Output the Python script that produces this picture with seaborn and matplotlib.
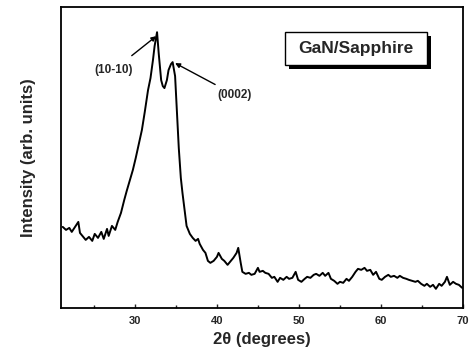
import numpy as np
import pandas as pd
import matplotlib
matplotlib.use("Agg")
import matplotlib.pyplot as plt
import matplotlib.patheffects as pe
from matplotlib.patches import Rectangle
import seaborn as sns

# XRD scan (2theta in degrees, intensity in arb. units)
two_theta = [21.2, 21.6, 22.0, 22.3, 22.7, 23.1, 23.3, 23.7, 24.0, 24.4, 24.8, 25.1,
             25.5, 25.9, 26.2, 26.6, 26.8, 27.2, 27.6, 27.9, 28.3, 28.7, 29.0, 29.4,
             29.75, 30.1, 30.5, 30.85, 31.2, 31.6, 31.9, 32.2, 32.4, 32.7, 32.9, 33.2,
             33.4, 33.6, 33.9, 34.1, 34.4, 34.6, 34.9, 35.1, 35.35, 35.6, 35.8, 36.1,
             36.3, 36.7, 37.05, 37.4, 37.7, 37.9, 38.3, 38.6, 38.9, 39.2, 39.6, 40.0,
             40.2, 40.6, 40.9, 41.3, 41.7, 42.0, 42.4, 42.6, 42.9, 43.1, 43.5, 43.9,
             44.2, 44.6, 45.0, 45.2, 45.6, 45.9, 46.3, 46.7, 47.0, 47.4, 47.7, 48.1,
             48.5, 48.8, 49.2, 49.6, 49.9, 50.3, 50.7, 51.0, 51.4, 51.8, 52.1, 52.5,
             52.9, 53.2, 53.6, 53.9, 54.3, 54.7, 55.0, 55.4, 55.8, 56.1, 56.5, 56.9,
             57.2, 57.6, 58.0, 58.3, 58.7, 59.05, 59.4, 59.8, 60.1, 60.5, 60.9, 61.2,
             61.6, 62.0, 62.3, 62.7, 63.1, 63.4, 63.8, 64.2, 64.5, 64.9, 65.3, 65.6,
             66.0, 66.35, 66.7, 67.1, 67.4, 67.8, 68.05, 68.4, 68.8, 69.15, 69.5, 69.9]
intensity = [81, 78, 80, 76, 81, 86, 75, 71, 68, 71, 67, 74,
             70, 76, 69, 79, 72, 82, 78, 86, 95, 108, 117, 128,
             138, 150, 165, 178, 196, 218, 230, 248, 262, 276, 255, 228,
             222, 220, 228, 238, 244, 246, 232, 200, 160, 130, 115, 95,
             82, 74, 70, 67, 69, 64, 58, 55, 47, 45, 47, 51,
             55, 49, 47, 43, 47, 50, 55, 60, 45, 36, 34, 35,
             33, 34, 40, 36, 37, 35, 34, 30, 31, 26, 30, 28,
             31, 29, 30, 36, 28, 26, 29, 31, 30, 33, 34, 32,
             35, 32, 35, 29, 27, 24, 26, 25, 29, 27, 31, 36,
             39, 38, 40, 37, 38, 33, 36, 29, 28, 31, 33, 31,
             32, 30, 32, 30, 29, 28, 27, 26, 27, 24, 22, 24,
             21, 23, 19, 24, 22, 26, 31, 23, 26, 24, 23, 20]

x_ticks = [30, 40, 50, 60, 70]
x_minor = [25, 35, 45, 55, 65]

df = pd.DataFrame({"two_theta": two_theta, "intensity": intensity})

sns.set_style("ticks")
plt.rcParams["font.family"] = ["Liberation Sans", "DejaVu Sans"]
plt.rcParams["font.weight"] = "bold"

fig = plt.figure(figsize=(4.7, 3.6), dpi=100)
ax = fig.add_axes([0.13, 0.145, 0.855, 0.835])

sns.lineplot(data=df, x="two_theta", y="intensity", color="black", lw=1.4, ax=ax)

ax.set_xlim(21, 70)
ax.set_ylim(0, 301)
ax.set_xticks(x_ticks)
ax.set_xticks(x_minor, minor=True)
ax.set_yticks([])
ax.tick_params(axis="x", direction="in", length=3, width=1, labelsize=8, pad=6)
ax.tick_params(axis="x", which="minor", direction="in", length=2, width=1)
for lab in ax.get_xticklabels():
    lab.set_fontweight("bold")
for s in ax.spines.values():
    s.set_linewidth(1.3)
    s.set_color("black")

ax.set_xlabel("2θ (degrees)", fontsize=12, fontweight="bold", labelpad=4)
ax.set_ylabel("Intensity (arb. units)", fontsize=12, fontweight="bold", labelpad=18)

# peak labels
ax.annotate("(10-10)", xy=(32.6, 272), xytext=(27.4, 238),
            fontsize=8.5, fontweight="bold", ha="center", va="center",
            arrowprops=dict(arrowstyle="-|>", color="black", lw=1, mutation_scale=7,
                            shrinkA=6, shrinkB=0))
ax.annotate("(0002)", xy=(34.9, 245), xytext=(42.2, 213),
            fontsize=8.5, fontweight="bold", ha="center", va="center",
            arrowprops=dict(arrowstyle="-|>", color="black", lw=1, mutation_scale=7,
                            shrinkA=2, shrinkB=0))

# framed label with a drop shadow
box = Rectangle((0.557, 0.807), 0.353, 0.11, transform=ax.transAxes,
                fc="white", ec="black", lw=1, zorder=4)
box.set_path_effects([
    pe.SimplePatchShadow(offset=(3, -3), shadow_rgbFace="black", alpha=1),
    pe.Normal()])
ax.add_patch(box)
ax.text(0.7335, 0.862, "GaN/Sapphire", transform=ax.transAxes, fontsize=12.5,
        fontweight="bold", ha="center", va="center", zorder=5)

fig.savefig("out.png", dpi=100)
